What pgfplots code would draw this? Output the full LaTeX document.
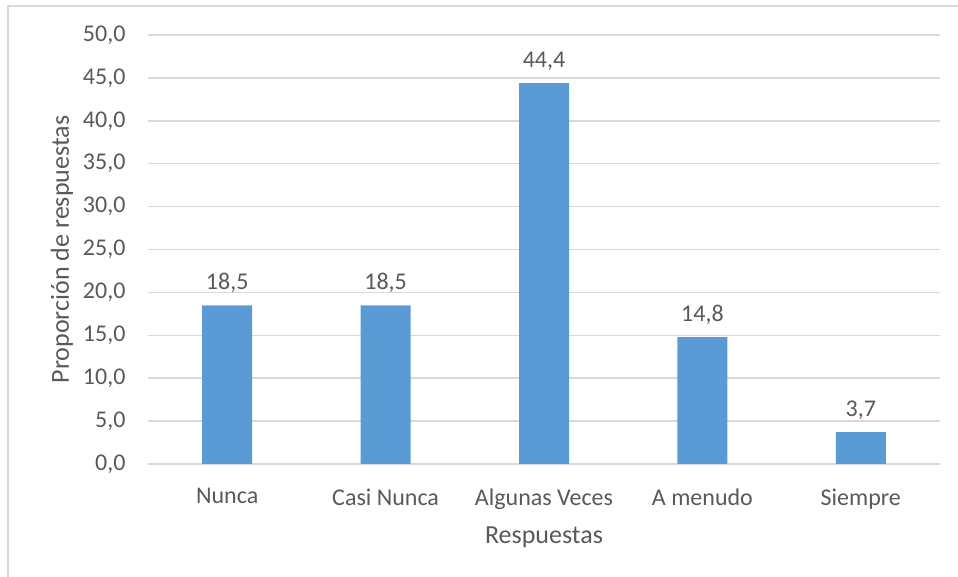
\documentclass[border=0pt]{standalone}
\usepackage{pgfplots}
\pgfplotsset{compat=1.18}
\usepackage{fontspec}
\setmainfont{Carlito}
\definecolor{barblue}{HTML}{5B9BD5}
\definecolor{txt}{HTML}{595959}
\definecolor{gridc}{HTML}{D9D9D9}
\begin{document}
\begin{tikzpicture}[x=1pt,y=1pt]
\useasboundingbox (0,0) rectangle (958,577);
\draw[gridc, line width=1.5pt] (8,0) -- (8,571) -- (958,571);
\begin{axis}[
  at={(148pt,113pt)}, anchor=south west,
  scale only axis, width=792pt, height=429pt,
  xmin=-0.5, xmax=4.5, ymin=0, ymax=50,
  ytick={0,5,...,50},
  xtick=data,
  xticklabels={Nunca,Casi Nunca,Algunas Veces,A menudo,Siempre},
  axis line style={draw=none},
  ymajorgrids, grid style={gridc, line width=1.5pt},
  major tick length=0pt,
  font=\fontsize{24}{28}\selectfont,
  tick label style={txt},
  /pgf/number format/assume math mode=true,
  yticklabel style={/pgf/number format/.cd, fixed, fixed zerofill, precision=1, use comma, /tikz/.cd, xshift=-19pt},
  xticklabel style={yshift=-21pt},
  every axis x label/.style={at={(axis description cs:0.5,-0.1713)}, anchor=center, txt, font=\fontsize{26}{30}\selectfont},
  every axis y label/.style={at={(axis description cs:-0.1086,0.5)}, anchor=center, rotate=90, txt, font=\fontsize{26}{30}\selectfont},
  xlabel={Respuestas},
  ylabel={Proporción de respuestas},
  nodes near coords,
  nodes near coords style={txt, yshift=9pt, /pgf/number format/.cd, fixed, fixed zerofill, precision=1, use comma},
  clip=false,
]
\addplot[ybar, bar width=50pt, fill=barblue, draw=none] coordinates {(0,18.5) (1,18.5) (2,44.4) (3,14.8) (4,3.7)};
\end{axis}
\end{tikzpicture}
\end{document}
